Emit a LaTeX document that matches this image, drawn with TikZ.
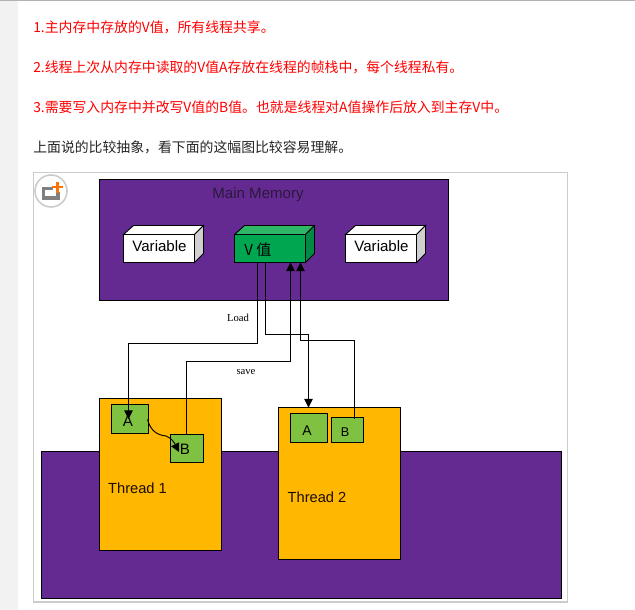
\documentclass[tikz,border=0pt]{standalone}
\usepackage{fontspec}
\setmainfont{Liberation Sans}
\newfontfamily\cjk{Noto Sans CJK SC}
\newfontfamily\timesf{Liberation Serif}
\usetikzlibrary{arrows.meta,calc}
\definecolor{pagegray}{HTML}{F2F2F2}
\definecolor{framegray}{HTML}{CCCCCC}
\definecolor{memviolet}{HTML}{652A92}
\definecolor{threadorange}{HTML}{FFB700}
\definecolor{slotgreen}{HTML}{7FC241}
\definecolor{valgreen}{HTML}{00A650}
\definecolor{valtop}{HTML}{2DB766}
\definecolor{valside}{HTML}{008A43}
\definecolor{boxside}{HTML}{D0D0D0}
\definecolor{inktext}{HTML}{2A1A3A}
\def\px{0.75pt}
\tikzset{
  x=0.75pt,y=-0.75pt,
  base/.style={draw=black,line width=0.7pt,inner sep=0pt,outer sep=0pt,font=\fontsize{12}{14}\selectfont},
  mem/.style={base,fill=memviolet},
  thread/.style={base,fill=threadorange},
  slot/.style={base,fill=slotgreen},
  varfront/.style={base,fill=white,minimum width=71*\px,minimum height=28*\px},
  valfront/.style={base,fill=valgreen,minimum width=71*\px,minimum height=28*\px},
  para/.style={anchor=west,inner sep=0pt,font=\cjk\fontsize{10.4}{12}\selectfont},
  redline/.style={para,text=red},
  lbl/.style={inner sep=0pt,font=\fontsize{11.3}{14}\selectfont},
  threadlbl/.style={inner sep=0pt,text=black!90!orange,font=\fontsize{11}{14}\selectfont},
  small/.style={inner sep=0pt,font=\timesf\fontsize{8}{10}\selectfont},
  conn/.style={draw=black,line width=0.7pt},
  connarrow/.style={conn,-{Triangle[length=6.5pt,width=6.5pt]}},
}
\begin{document}
\begin{tikzpicture}
\useasboundingbox (0,0) rectangle (635,610);
\fill[white] (0,0) rectangle (635,610);
\fill[pagegray] (0,0) rectangle (18,610);
\fill[black!30] (0,0) rectangle (635,1.2);

\node[redline] (t1) at (33,27) {1.主内存中存放的V值，所有线程共享。};
\node[redline] (t2) at (33,67) {2.线程上次从内存中读取的V值A存放在线程的帧栈中，每个线程私有。};
\node[redline] (t3) at (33,107) {3.需要写入内存中并改写V值的B值。也就是线程对A值操作后放入到主存V中。};
\node[para,text=black!85] (t4) at (33,147) {上面说的比较抽象，看下面的这幅图比较容易理解。};

\node[draw=framegray,line width=0.8pt,fill=white,inner sep=0pt,minimum width=534*\px,minimum height=429.5*\px] (frame) at (300.5,387.25) {};

% icon
\node[circle,draw=framegray,line width=1.2pt,fill=white,minimum size=32*\px,inner sep=0pt] (icon) at (51,191) {};
\draw[black!50,line width=2.4pt] (53,188.5) -- (43.5,188.5) -- (43.5,198) -- (58,198) -- (58,192);
\draw[orange!90!red,line width=2.2pt] (57.5,182) -- (57.5,192.5) (52,187) -- (63,187);

% main memory
\node[mem,minimum width=349*\px,minimum height=121*\px] (memory) at (274,240) {};
\node[lbl,text=inktext] (memlabel) at (258,194.5) {Main Memory};

% 3D boxes
\draw[base,fill=white] (123.5,234.5) -- (133.5,225.5) -- (203.5,225.5) -- (194.5,234.5) -- cycle;
\draw[base,fill=boxside] (194.5,234.5) -- (203.5,225.5) -- (203.5,253.5) -- (194.5,262.5) -- cycle;
\node[varfront] (var1) at (159,248.5) {};
\node[lbl] (var1t) at (159.5,246.5) {Variable};

\draw[base,fill=valtop] (234.5,234.5) -- (244.5,225.5) -- (314.5,225.5) -- (305.5,234.5) -- cycle;
\draw[base,fill=valside] (305.5,234.5) -- (314.5,225.5) -- (314.5,253.5) -- (305.5,262.5) -- cycle;
\node[valfront] (vval) at (270,248.5) {};
\node[lbl,font=\cjk\fontsize{11.3}{14}\selectfont] (vvalt) at (258,249.5) {V 值};

\draw[base,fill=white] (345.5,234.5) -- (355.5,225.5) -- (425.5,225.5) -- (416.5,234.5) -- cycle;
\draw[base,fill=boxside] (416.5,234.5) -- (425.5,225.5) -- (425.5,253.5) -- (416.5,262.5) -- cycle;
\node[varfront] (var2) at (381,248.5) {};
\node[lbl] (var2t) at (381.5,246.5) {Variable};

% lower area
\node[mem,minimum width=520*\px,minimum height=147*\px] (stack) at (301,525) {};
\node[thread,minimum width=122*\px,minimum height=152*\px] (th1) at (160.5,474.5) {};
\node[thread,minimum width=122*\px,minimum height=152*\px] (th2) at (339.5,483.5) {};
\node[threadlbl] (th1t) at (137.5,488.5) {Thread 1};
\node[threadlbl] (th2t) at (317,497.5) {Thread 2};

\node[slot,minimum width=37*\px,minimum height=29*\px] (a1) at (130,418.5) {};
\node[slot,minimum width=33*\px,minimum height=28*\px] (b1) at (187,448) {};
\node[slot,minimum width=37*\px,minimum height=29*\px] (a2) at (309,427.5) {};
\node[slot,minimum width=32*\px,minimum height=25*\px] (b2) at (347.5,429.5) {};
\node[lbl] (a1t) at (128,421) {A};
\node[lbl] (b1t) at (185,449.5) {B};
\node[lbl,font=\fontsize{10.5}{12}\selectfont] (a2t) at (307,430.5) {A};
\node[lbl,font=\fontsize{9.5}{12}\selectfont] (b2t) at (345,432) {B};

\node[small] (load) at (238,317.5) {Load};
\node[small] (save) at (246,372) {save};

% connectors
\coordinate (c1a) at (257.5,343.5);
\coordinate (c2a) at (265.5,334.5);
\coordinate (c3a) at (290.5,361.5);
\coordinate (c4a) at (300.5,340.5);

\draw[connarrow] ($(vval.south west)+(23,0)$) -- (c1a) -- (128.5,343.5) -- (128.5,419);
\draw[connarrow] ($(vval.south west)+(31,0)$) -- (c2a) -- (308.5,334.5) -- ($(th2.north west)+(30,0)$);
\draw[connarrow] ($(b1.north west)+(16,0)$) -- (186.5,361.5) -- (c3a) -- ($(vval.south west)+(56,0)$);
\draw[connarrow] ($(b2.north west)+(23,2)$) -- (354.5,340.5) -- (c4a) -- ($(vval.south west)+(66,0)$);
\draw[connarrow] ($(a1.east)+(-1,1)$) .. controls (151,432) and (158,435) .. (166,436) .. controls (172,438) and (175,444) .. (179,452);
\end{tikzpicture}
\end{document}
